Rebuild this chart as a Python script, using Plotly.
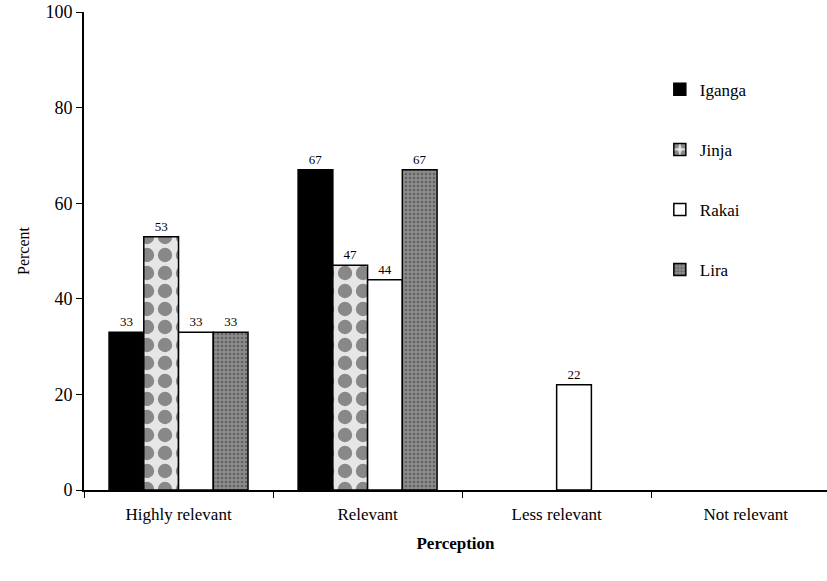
import plotly.graph_objects as go

# Perception of relevance, percent of respondents per district
categories = ["Highly relevant", "Relevant", "Less relevant", "Not relevant"]
iganga = [33, 67, 0, 0]
jinja = [53, 47, 0, 0]
rakai = [33, 44, 22, 0]
lira = [33, 67, 0, 0]

y_ticks = [0, 20, 40, 60, 80, 100]

FONT = "Liberation Serif, Times New Roman, DejaVu Serif, serif"

series = [
    ("Iganga", iganga, dict(color="black")),
    ("Jinja", jinja, dict(color="#e6e6e6",
                          pattern=dict(shape=".", fgcolor="#2a2a2a", size=18,
                                       solidity=0.5, fillmode="overlay"))),
    ("Rakai", rakai, dict(color="white")),
    ("Lira", lira, dict(color="#8c8c8c",
                        pattern=dict(shape=".", fgcolor="#3a3a3a", size=4,
                                     solidity=0.35, fillmode="overlay"))),
]

fig = go.Figure()
for name, vals, mk in series:
    mk = dict(mk)
    mk["line"] = dict(color="black", width=1.5)
    fig.add_trace(go.Bar(
        name=name,
        x=categories,
        # empty categories get no bar at all
        y=[v if v else None for v in vals],
        text=[str(v) if v else "" for v in vals],
        textposition="outside",
        textfont=dict(family=FONT, size=13, color="#000000"),
        cliponaxis=False,
        marker=mk,
        legendgroup=name,
    ))

fig.update_layout(
    width=827,
    height=581,
    margin=dict(l=84, r=0, t=12, b=91),
    paper_bgcolor="white",
    plot_bgcolor="white",
    barmode="group",
    bargap=0.265,
    bargroupgap=0,
    font=dict(family=FONT, color="black", size=16),
    showlegend=True,
    legend=dict(
        x=0.775, y=0.875, xanchor="left", yanchor="top",
        font=dict(family=FONT, size=17, color="black"),
        tracegroupgap=35,
        bgcolor="rgba(0,0,0,0)",
    ),
    xaxis=dict(
        range=[-0.5, 3.43],
        showline=True, linecolor="black", linewidth=2,
        ticks="outside", tickson="boundaries", ticklen=6, tickcolor="black",
        tickfont=dict(family=FONT, size=17, color="black"),
        ticklabelstandoff=8,
        showgrid=False,
        title=dict(text="<b>Perception</b>",
                   font=dict(family=FONT, size=17, color="black"),
                   standoff=14),
    ),
    yaxis=dict(
        range=[0, 100],
        tickvals=y_ticks,
        showline=True, linecolor="black", linewidth=2,
        ticks="outside", ticklen=6, tickcolor="black",
        tickfont=dict(family=FONT, size=18, color="black"),
        showgrid=False, zeroline=False,
        title=dict(text="Percent", font=dict(family=FONT, size=16, color="black"),
                   standoff=12),
    ),
)

fig.write_html("out.html")
